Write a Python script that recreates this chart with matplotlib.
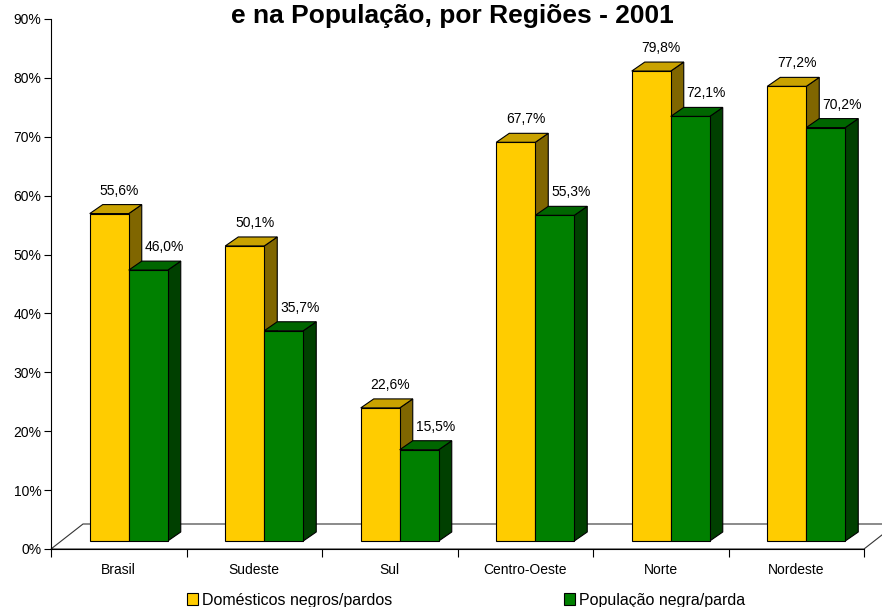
import matplotlib
matplotlib.use("Agg")
from matplotlib import pyplot as plt
from matplotlib.patches import Polygon, Patch
from matplotlib.ticker import FixedLocator, NullFormatter, FixedFormatter

plt.rcParams['font.family'] = ['Liberation Sans', 'DejaVu Sans']

regioes = ['Brasil', 'Sudeste', 'Sul', 'Centro-Oeste', 'Norte', 'Nordeste']
domesticos = [55.6, 50.1, 22.6, 67.7, 79.8, 77.2]
populacao = [46.0, 35.7, 15.5, 55.3, 72.1, 70.2]
series_nomes = ['Domésticos negros/pardos', 'População negra/parda']
yticks = [0, 10, 20, 30, 40, 50, 60, 70, 80, 90]

# cores: frente, topo, lado
cores = [('#FFCC00', '#C9A200', '#806600'),
         ('#008000', '#006600', '#004000')]

W, H = 882, 607
fig = plt.figure(figsize=(W / 100, H / 100), dpi=100)
x0, x1, y0, y1 = 51, 864, 549, 19
ax = fig.add_axes([x0 / W, 1 - y0 / H, (x1 - x0) / W, (y0 - y1) / H])
ax.set_xlim(0, 6)
ax.set_ylim(0, 90)

# profundidade (em unidades de dados) - piso e barras
px_cat = (x1 - x0) / 6.0
px_pct = (y0 - y1) / 90.0
fdx, fdy = 32 / px_cat, 25 / px_pct     # piso
odx, ody = 10 / px_cat, 8 / px_pct      # deslocamento das barras
bdx, bdy = 13 / px_cat, 9 / px_pct      # profundidade das barras
w = 39 / px_cat

# piso
piso = [(0, 0), (6, 0), (6 + fdx, fdy), (fdx, fdy)]
ax.add_patch(Polygon(piso, closed=True, facecolor='white', edgecolor='#333333',
                     lw=0.8, clip_on=False, zorder=1))


def barra(xl, v, cf, ct, cl, desloc):
    b = ody
    t = ody + v
    xr = xl + w
    lado = [(xr, b), (xr + bdx, b + bdy), (xr + bdx, t + bdy), (xr, t)]
    topo = [(xl, t), (xr, t), (xr + bdx, t + bdy), (xl + bdx, t + bdy)]
    frente = [(xl, b), (xr, b), (xr, t), (xl, t)]
    for pts, c in ((lado, cl), (topo, ct), (frente, cf)):
        ax.add_patch(Polygon(pts, closed=True, facecolor=c, edgecolor='black',
                             lw=0.8, clip_on=False, zorder=3))
    ax.annotate(f'{v:.1f}'.replace('.', ',') + '%',
                xy=(xl + w / 2 + desloc / px_cat, t + bdy), xytext=(0, 5),
                textcoords='offset points', ha='center', va='bottom',
                fontsize=10, zorder=5, annotation_clip=False)


for i in range(len(regioes)):
    xl = i + 0.5 - w + odx
    barra(xl, domesticos[i], *cores[0], 10)
    barra(xl + w, populacao[i], *cores[1], 16)

# eixos
for s in ('top', 'right'):
    ax.spines[s].set_visible(False)
ax.spines['left'].set_linewidth(0.8)
ax.spines['bottom'].set_linewidth(0.8)
ax.spines['left'].set_zorder(6)
ax.spines['bottom'].set_zorder(6)

ax.set_yticks(yticks)
ax.set_yticklabels([f'{t}%' for t in yticks])
ax.tick_params(axis='y', length=5, width=0.8, pad=2, labelsize=10)

ax.xaxis.set_major_locator(FixedLocator(range(7)))
ax.xaxis.set_major_formatter(NullFormatter())
ax.xaxis.set_minor_locator(FixedLocator([i + 0.5 for i in range(6)]))
ax.xaxis.set_minor_formatter(FixedFormatter(regioes))
ax.tick_params(axis='x', which='major', length=6, width=0.8)
ax.tick_params(axis='x', which='minor', length=0, pad=10, labelsize=10)

fig.text(452 / W, 1 - 23 / H, 'e na População, por Regiões - 2001',
         ha='center', va='baseline', fontsize=19, fontweight='bold')

handles = [Patch(facecolor=cores[0][0], edgecolor='black', lw=0.8),
           Patch(facecolor=cores[1][0], edgecolor='black', lw=0.8)]
fig.legend(handles, series_nomes, loc='center', ncol=2,
           bbox_to_anchor=(466 / W, 1 - 600 / H), frameon=False,
           fontsize=11.5, handlelength=0.7, handleheight=0.7,
           handletextpad=0.2, columnspacing=10.8, borderaxespad=0)

fig.savefig('out.png', dpi=100)
